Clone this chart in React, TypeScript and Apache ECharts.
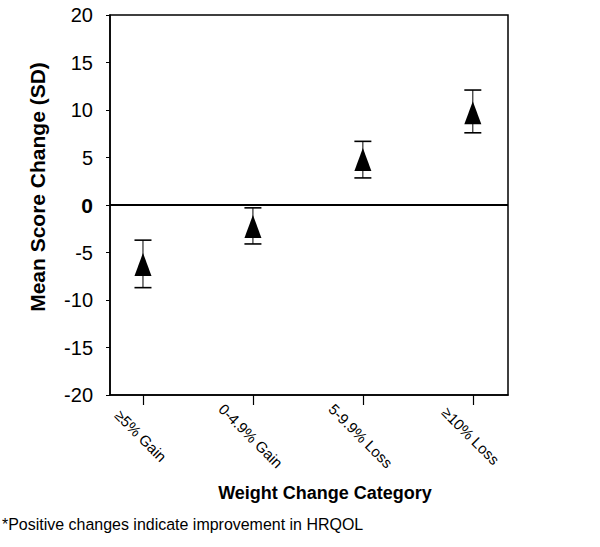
import React, { useEffect, useRef } from "react";
import * as echarts from "echarts";

const categories = ["≥5% Gain", "0-4.9% Gain", "5-9.9% Loss", "≥10% Loss"];
const means = [-6.25, -2.25, 4.8, 9.7];
const lowers = [-8.7, -4.1, 2.85, 7.6];
const uppers = [-3.7, -0.3, 6.7, 12.1];
const yTitle = "Mean Score Change (SD)";
const xTitle = "Weight Change Category";
const footnote = "*Positive changes indicate improvement in HRQOL";

export default function App() {
  const ref = useRef<HTMLDivElement>(null);
  useEffect(() => {
    const chart = echarts.init(ref.current!, null, { renderer: "svg" });
    const font = "Liberation Sans, Arial, sans-serif";
    const pos = categories.map((_, i) => i + 1);
    chart.setOption({
      animation: false,
      backgroundColor: "#fff",
      grid: {
        left: 110,
        right: 92,
        top: 15,
        bottom: 152,
        show: true,
        borderColor: "#000",
        borderWidth: 1.5,
        backgroundColor: "transparent",
      },
      xAxis: {
        type: "value",
        min: 0.7,
        max: 4.32,
        name: xTitle,
        nameLocation: "middle",
        nameGap: 89,
        nameMoveOverlap: false,
        nameTextStyle: { fontFamily: font, fontSize: 18, fontWeight: "bold", color: "#000", padding: [0, 0, 0, 32] },
        axisLine: { show: true, onZero: false, lineStyle: { color: "#000", width: 1.5 } },
        splitLine: { show: false },
        axisTick: { show: true, customValues: pos, length: 10, lineStyle: { color: "#000", width: 1.2 } },
        axisLabel: {
          customValues: pos,
          formatter: (v: number) => categories[Math.round(v) - 1] ?? "",
          rotate: -45,
          align: "center",
          verticalAlign: "middle",
          margin: 43,
          padding: [16, 6, 0, 0],
          fontFamily: font,
          fontSize: 15,
          color: "#000",
        },
      },
      yAxis: {
        type: "value",
        min: -20,
        max: 20,
        interval: 5,
        axisLine: { show: true, lineStyle: { color: "#000", width: 1.5 } },
        splitLine: { show: false },
        axisTick: { show: true, length: 4, lineStyle: { color: "#000" } },
        axisLabel: {
          margin: 17,
          fontFamily: font,
          fontSize: 20,
          color: "#000",
          formatter: (v: number) => (v === 0 ? "{b|0}" : String(v)),
          rich: { b: { fontFamily: font, fontSize: 21, fontWeight: "bold", color: "#000" } },
        },
      },
      series: [
        {
          type: "custom",
          data: pos.map((p, i) => [p, lowers[i], uppers[i]]),
          renderItem: (params: any, api: any) => {
            const x = api.value(0);
            const lo = api.coord([x, api.value(1)]);
            const hi = api.coord([x, api.value(2)]);
            const w = 8.5;
            const st = { stroke: "#000", lineWidth: 1.6 };
            return {
              type: "group",
              children: [
                { type: "line", shape: { x1: lo[0], y1: lo[1], x2: hi[0], y2: hi[1] }, style: { stroke: "#000", lineWidth: 1 } },
                { type: "line", shape: { x1: lo[0] - w, y1: lo[1], x2: lo[0] + w, y2: lo[1] }, style: st },
                { type: "line", shape: { x1: hi[0] - w, y1: hi[1], x2: hi[0] + w, y2: hi[1] }, style: st },
              ],
            };
          },
          z: 2,
        },
        {
          type: "scatter",
          data: pos.map((p, i) => [p, means[i]]),
          symbol: "triangle",
          symbolSize: [17, 23],
          itemStyle: { color: "#000", opacity: 1 },
          z: 3,
          markLine: {
            silent: true,
            symbol: "none",
            label: { show: false },
            lineStyle: { color: "#000", width: 2, type: "solid" },
            data: [{ yAxis: 0 }],
          },
        },
      ],
      graphic: [
        {
          type: "text",
          x: 37,
          y: 187,
          rotation: Math.PI / 2,
          style: {
            text: yTitle,
            fontFamily: font,
            fontSize: 21,
            fontWeight: "bold",
            fill: "#000",
            align: "center",
            verticalAlign: "middle",
          },
        },
        {
          type: "text",
          x: 2,
          y: 524,
          scaleX: 0.94,
          style: {
            text: footnote,
            fontFamily: font,
            fontSize: 17,
            fill: "#000",
            align: "left",
            verticalAlign: "middle",
          },
        },
      ],
    });
    return () => chart.dispose();
  }, []);
  return (
    <div
      ref={ref}
      style={{ position: "fixed", left: 0, top: 0, width: 600, height: 547, background: "#fff" }}
    />
  );
}
